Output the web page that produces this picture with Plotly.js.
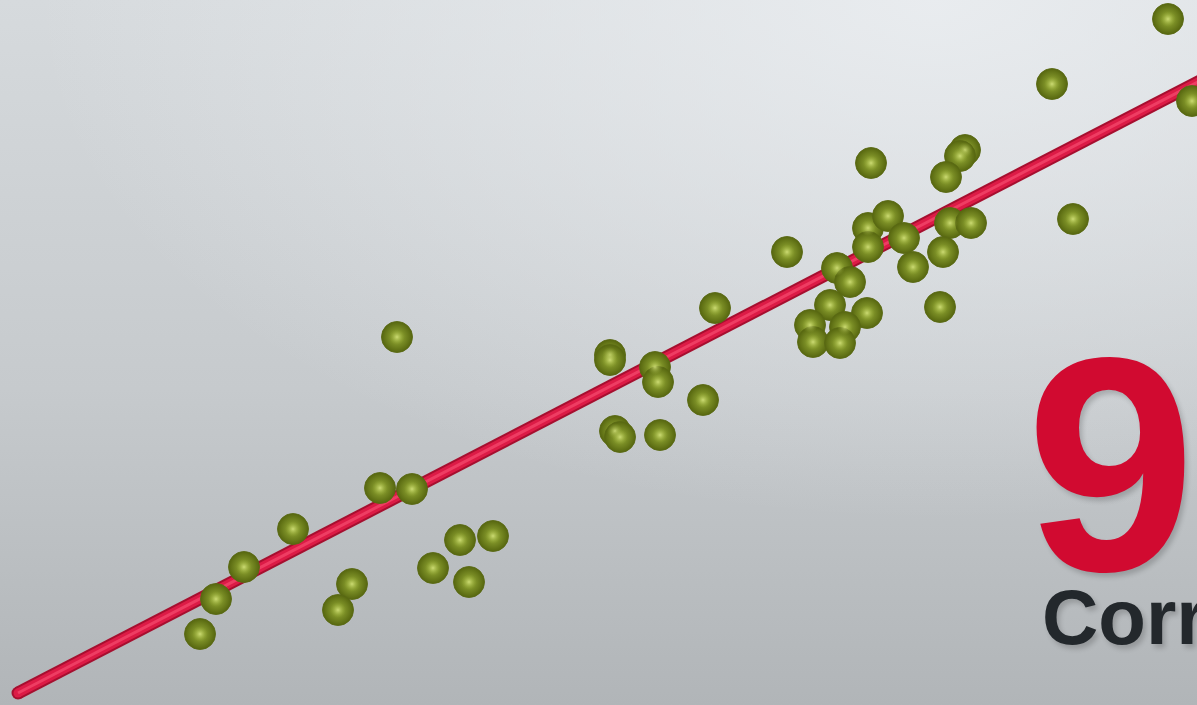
<!DOCTYPE html>
<html>
<head>
<meta charset="utf-8">
<script src="https://cdn.plot.ly/plotly-3.0.1.min.js"></script>
<style>
  html, body { margin: 0; padding: 0; width: 1197px; height: 705px; overflow: hidden; }
  body {
    background:
      radial-gradient(ellipse 900px 520px at 78% 0%, rgba(236,239,242,0.85) 0%, rgba(236,239,242,0) 100%),
      linear-gradient(to bottom, #d6dadd 0%, #c6cacd 55%, #b1b5b8 100%);
  }
  #chart { width: 1197px; height: 705px; }
  .annotation-text { text-shadow: 3px 4px 5px rgba(0,0,0,0.18); }
</style>
</head>
<body>
<div id="chart"></div>
<script>
// Scatter observations (x, y)
const pointX = [116.8, 105.2, 119.2, 87.1, 96.5, 96.0, 94.6, 86.8, 88.8, 90.4,
                86.8, 95.0, 97.1, 94.3, 91.3, 107.3, 78.7, 83.7, 85.0, 94.0,
                83.0, 86.7, 84.5, 81.0, 81.3, 84.0, 71.5, 61.0, 61.0, 65.5,
                65.8, 70.3, 61.5, 62.0, 66.0, 39.7, 38.0, 41.2, 29.3, 46.0,
                49.3, 43.3, 46.9, 35.2, 33.8, 24.4, 21.6, 20.0];
const pointY = [68.6, 62.1, 60.4, 54.2, 55.5, 54.9, 52.8, 47.7, 48.9, 46.7,
                45.8, 48.2, 48.2, 45.3, 43.8, 48.6, 45.3, 43.7, 42.3, 39.8,
                40.0, 39.2, 37.8, 38.0, 36.3, 36.2, 39.7, 35.0, 34.5, 33.8,
                32.3, 30.5, 27.4, 26.8, 27.0, 36.8, 21.7, 21.6, 17.6, 16.5,
                16.9, 13.7, 12.3, 12.1, 9.5, 13.8, 10.6, 7.1];

// Regression (trend) line end points
const lineX = [1.8, 125.0];
const lineY = [1.2, 65.0];

// Headline texts
const headlineValue = "95%";
const headlineLabel = "Correlation";

const traces = [
  { x: [lineX[0]], y: [lineY[0]], mode: 'markers', hoverinfo: 'skip', showlegend: false,
    marker: { size: 13, color: '#a60f2f' } },
  { x: lineX, y: lineY, mode: 'lines', hoverinfo: 'skip', showlegend: false,
    line: { color: '#a60f2f', width: 13 } },
  { x: [lineX[0]], y: [lineY[0]], mode: 'markers', hoverinfo: 'skip', showlegend: false,
    marker: { size: 9, color: '#dc1b46' } },
  { x: lineX, y: lineY, mode: 'lines', hoverinfo: 'skip', showlegend: false,
    line: { color: '#dc1b46', width: 9 } },
  { x: lineX, y: lineY, mode: 'lines', hoverinfo: 'skip', showlegend: false,
    line: { color: '#ee3d63', width: 3 } },
  { x: pointX, y: pointY, mode: 'markers', showlegend: false,
    marker: { size: 31, color: '#56660f',
      gradient: { type: 'radial', color: '#9cb23a' },
      line: { width: 1, color: 'rgba(90,105,20,0.9)' } } },
  { x: pointX, y: pointY, mode: 'markers', showlegend: false, hoverinfo: 'skip',
    marker: { size: 16, color: 'rgba(140,160,45,0)',
      gradient: { type: 'radial', color: 'rgba(212,226,125,0.85)' } } }
];

const layout = {
  width: 1197, height: 705,
  margin: { l: 0, r: 0, t: 0, b: 0, pad: 0 },
  paper_bgcolor: 'rgba(0,0,0,0)',
  plot_bgcolor: 'rgba(0,0,0,0)',
  showlegend: false,
  xaxis: { range: [0, 119.7], visible: false, fixedrange: true },
  yaxis: { range: [0, 70.5], visible: false, fixedrange: true },
  annotations: [
    { xref: 'paper', yref: 'paper', x: 1024 / 1197, y: 0.097, xanchor: 'left', yanchor: 'bottom',
      text: '<b>' + headlineValue + '</b>', showarrow: false,
      font: { family: 'Liberation Sans, Arial, sans-serif', size: 305, color: '#d10a30' } },
    { xref: 'paper', yref: 'paper', x: 1040 / 1197, y: 0.060, xanchor: 'left', yanchor: 'bottom',
      text: '<b>' + headlineLabel + '</b>', showarrow: false,
      font: { family: 'Liberation Sans, Arial, sans-serif', size: 78, color: '#23282c' } }
  ]
};

Plotly.newPlot('chart', traces, layout, { displayModeBar: false, staticPlot: true });
</script>
</body>
</html>
